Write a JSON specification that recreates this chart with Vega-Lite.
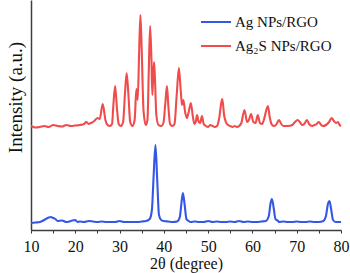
{
  "$schema": "https://vega.github.io/schema/vega-lite/v6.json",
  "width": 310,
  "height": 230,
  "autosize": {"type": "none"},
  "padding": {"left": 31, "top": 0, "right": 9, "bottom": 43},
  "background": "white",
  "config": {
    "view": {"stroke": null},
    "font": "Liberation Serif",
    "axis": {
      "labelFont": "Liberation Serif", "titleFont": "Liberation Serif",
      "labelColor": "#111", "titleColor": "#111", "titleFontWeight": "normal",
      "grid": false, "domainColor": "#3a3f44", "domainWidth": 1.5, "tickColor": "#333"
    },
    "legend": {"labelFont": "Liberation Serif"}
  },
  "datasets": {
    "blue": [
      [10,7],[11,7.5],[12,8],[13,10],[14,12.5],[14.5,13],[15,12],[15.5,11],[16,9],[17,9.5],[18,8],[19,9],[20,10],[20.5,8],[21,8.5],[22,8],[23,9],[24,8.5],[25,8],[26,8.5],[27,8],[28,8],[29,8],[30,9],[31,8],[32,8],[33,8],[34,8],[35,8.5],[36,9],[36.8,11],[37.3,20],[37.7,55],[38.1,85],[38.5,50],[38.9,15],[39.4,10],[40,9],[41,8.5],[42,8],[43,8.5],[43.6,13],[44,28],[44.3,37],[44.7,25],[45.1,11],[45.6,9],[46,8],[47,8.5],[48,8],[49,8],[50,9],[51,8],[52,8.5],[53,8],[54,8],[55,8.5],[56,8],[57,9],[58,8],[59,8.5],[60,8],[61,8],[62,8.5],[63,9],[63.7,14],[64.1,27],[64.4,31],[64.8,22],[65.2,11],[65.8,9],[66,8],[67,8.5],[68,8],[69,8],[70,8.5],[71,8],[72,8],[73,8.5],[74,8],[75,8],[76,9],[76.6,14],[77.1,27],[77.4,29],[77.8,20],[78.2,10],[78.8,8],[79.5,8],[80,8]
    ],
    "red": [
      [10,104],[11,102.5],[12,103],[13,104],[14,103],[15,105],[16,104],[17,103.5],[18,105],[19,104],[20,104.5],[21,105],[22,106],[22.5,108],[23,106],[23.5,107],[24,108],[24.5,110],[25,112],[25.5,111],[26.2,126],[26.8,110],[27.3,105],[27.8,104],[28.3,106],[28.6,125],[29.0,144],[29.4,122],[29.8,106],[30.3,104],[30.8,108],[31.2,135],[31.6,157],[32.0,135],[32.4,108],[32.9,104],[33.4,110],[33.8,141],[34.1,130],[34.4,175],[34.7,215],[35.0,180],[35.4,120],[35.9,105],[36.3,110],[36.6,160],[36.9,204],[37.2,170],[37.4,135],[37.6,155],[37.8,168],[38.0,150],[38.3,115],[38.8,105],[39.4,104],[39.9,107],[40.3,125],[40.7,144],[41.0,125],[41.4,106],[41.9,104],[42.4,106],[42.9,135],[43.4,162],[43.8,140],[44.1,125],[44.4,130],[44.8,118],[45.2,112],[45.5,116],[45.8,122],[46.1,127],[46.5,115],[46.9,106],[47.2,108],[47.5,115],[47.8,109],[48.2,107],[48.6,114],[49.0,106],[49.5,104],[50,103],[50.5,105],[51,104],[51.5,103],[52,104],[52.5,112],[53.0,128],[53.2,131],[53.6,115],[54.0,108],[54.5,105],[55,104],[55.5,103],[56,104],[56.5,103],[57,104],[57.5,107],[58.2,120],[58.8,108],[59.2,110],[59.7,116],[60.2,108],[60.7,107],[61.2,115],[61.7,107],[62.2,106],[62.7,112],[63.2,121],[63.5,124],[63.9,113],[64.3,106],[64.8,104],[65.3,105],[66.0,110],[66.5,106],[67,104],[68,104],[69,105],[69.6,108],[70.2,110],[70.7,108],[71.2,105],[71.7,106],[72.3,110],[72.8,106],[73.5,104],[74,105],[74.5,106],[75,108],[75.5,105],[76,104],[76.6,105],[77.3,108],[77.9,112],[78.4,109],[78.9,107],[79.3,108],[79.7,105],[80,104]
    ]
  },
  "encoding": {
    "x": {
      "field": "t", "type": "quantitative",
      "scale": {"domain": [10, 80], "nice": false},
      "axis": {
        "title": "2θ (degree)", "values": [10,15,20,25,30,35,40,45,50,55,60,65,70,75,80],
        "labelExpr": "datum.value % 10 === 0 ? datum.label : ''",
        "tickSize": 3, "labelFontSize": 16, "labelPadding": 5, "labelOverlap": false,
        "labelFlush": false, "titleFontSize": 16, "titlePadding": 1
      }
    },
    "y": {
      "field": "i", "type": "quantitative",
      "scale": {"domain": [0, 230], "nice": false},
      "axis": {
        "title": "Intensity (a.u.)", "labels": false, "ticks": false,
        "titleFontSize": 19, "titlePadding": 6, "titleY": 97
      }
    },
    "color": {
      "field": "s", "type": "nominal",
      "scale": {"domain": ["Ag NPs/RGO", "Ag₂S NPs/RGO"], "range": ["#3557e6", "#f04c4c"]},
      "legend": {
        "title": null, "orient": "none", "legendX": 169, "legendY": 6,
        "symbolType": "stroke", "symbolSize": 900, "symbolStrokeWidth": 2,
        "labelFontSize": 15, "labelColor": "#111", "labelOffset": 3, "rowPadding": 0
      }
    }
  },
  "layer": [
    {
      "data": {"name": "blue"},
      "transform": [
        {"calculate": "datum[0]", "as": "t"},
        {"calculate": "datum[1]", "as": "i"},
        {"calculate": "'Ag NPs/RGO'", "as": "s"}
      ],
      "mark": {"type": "line", "strokeWidth": 2.1, "interpolate": "monotone"}
    },
    {
      "data": {"name": "red"},
      "transform": [
        {"calculate": "datum[0]", "as": "t"},
        {"calculate": "datum[1]", "as": "i"},
        {"calculate": "'Ag₂S NPs/RGO'", "as": "s"}
      ],
      "mark": {"type": "line", "strokeWidth": 2.1, "interpolate": "monotone"}
    }
  ]
}
